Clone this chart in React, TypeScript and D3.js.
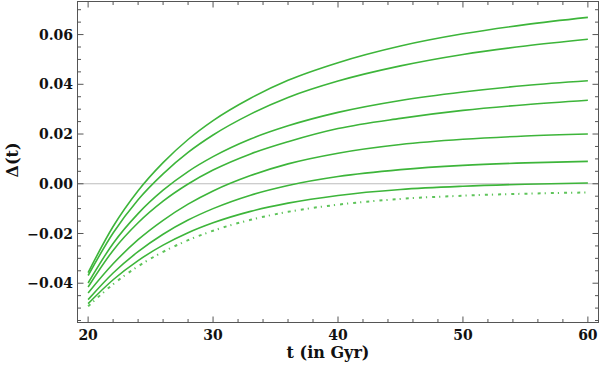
import { scaleLinear, line, curveMonotoneX, range } from "d3";

const width = 600;
const height = 370;

// time samples (Gyr)
const tValues = [20, 22, 24, 26, 28, 30, 33, 36, 40, 45, 50, 55, 60];

// Δ(t), top curve first
const curve1 = [-0.0357, -0.0172, -0.0028, 0.0085, 0.0178, 0.0254, 0.0344, 0.0416, 0.0487, 0.0554, 0.0603, 0.064, 0.0669];
const curve2 = [-0.0369, -0.0198, -0.0064, 0.004, 0.0126, 0.0196, 0.028, 0.0347, 0.0413, 0.0474, 0.052, 0.0554, 0.0581];
const curve3 = [-0.0399, -0.024, -0.012, -0.0026, 0.0049, 0.0109, 0.018, 0.0233, 0.0287, 0.0335, 0.0369, 0.0395, 0.0414];
const curve4 = [-0.0415, -0.0268, -0.0157, -0.007, -0.0001, 0.0055, 0.012, 0.0169, 0.0222, 0.0263, 0.0295, 0.0318, 0.0336];
const curve5 = [-0.0439, -0.0322, -0.0225, -0.0147, -0.0082, -0.0029, 0.0033, 0.008, 0.0123, 0.0158, 0.0179, 0.0192, 0.02];
const curve6 = [-0.0466, -0.0359, -0.0273, -0.0203, -0.0146, -0.01, -0.0046, -0.0007, 0.0029, 0.0057, 0.0074, 0.0084, 0.009];
const curve7 = [-0.0482, -0.0386, -0.0309, -0.0247, -0.0197, -0.0157, -0.0111, -0.0078, -0.0047, -0.0023, -0.001, -0.0002, 0.0003];
const curveDashed = [-0.0493, -0.0404, -0.0332, -0.0274, -0.0227, -0.0189, -0.0145, -0.0113, -0.0084, -0.0061, -0.0048, -0.004, -0.0035];

const solidCurves = [curve1, curve2, curve3, curve4, curve5, curve6, curve7];

const xTicks = [20, 30, 40, 50, 60];
const yTicks = [-0.04, -0.02, 0.0, 0.02, 0.04, 0.06];

const left = 77.5;
const right = 598.5;
const top = 1.5;
const bottom = 322.5;

const font = '"DejaVu Serif", "Liberation Serif", serif';

function App() {
  const x = scaleLinear().domain([19.15, 60.85]).range([left, right]);
  const y = scaleLinear().domain([-0.0558, 0.0733]).range([bottom, top]);

  const path = (vals: number[]) =>
    line<number>()
      .x((_, i) => x(tValues[i]))
      .y((d) => y(d))
      .curve(curveMonotoneX)(vals) || "";

  const xMinor = range(20, 61, 2).filter((t) => t % 10 !== 0);
  const yMinor = range(-11, 15)
    .map((k) => k * 0.005)
    .filter((v) => Math.abs(Math.round(v * 1000) % 20) !== 0);

  const fmt = (v: number) => {
    const s = Math.abs(v).toFixed(2);
    return v < -1e-9 ? "\u2212" + s : s;
  };

  const frame = "#555";

  return (
    <div style={{ position: "absolute", left: 0, top: 0 }}>
      <svg width={width} height={height} fontFamily={font} style={{ display: "block" }}>
        <rect x={0} y={0} width={width} height={height} fill="white" />

        {/* zero line */}
        <line x1={left} x2={right} y1={y(0)} y2={y(0)} stroke="#bdbdbd" strokeWidth={1} />

        {/* curves */}
        <path
          d={path(curveDashed)}
          fill="none"
          stroke="#5ec45a"
          strokeWidth={2}
          strokeDasharray="3,4,1.2,5"
        />
        {solidCurves.map((c, i) => (
          <path key={i} d={path(c)} fill="none" stroke="#3db53a" strokeWidth={1.6} />
        ))}

        {/* frame */}
        <rect
          x={left}
          y={top}
          width={right - left}
          height={bottom - top}
          fill="none"
          stroke={frame}
          strokeWidth={1}
        />

        {/* x ticks bottom + top */}
        {xTicks.map((t) => (
          <g key={"xt" + t}>
            <line x1={x(t)} x2={x(t)} y1={bottom} y2={bottom - 6} stroke={frame} />
            <line x1={x(t)} x2={x(t)} y1={top} y2={top + 6} stroke={frame} />
            <text x={x(t)} y={339.5} textAnchor="middle" fontSize={14} fontWeight={700} fill="#111">
              {t}
            </text>
          </g>
        ))}
        {xMinor.map((t) => (
          <g key={"xm" + t}>
            <line x1={x(t)} x2={x(t)} y1={bottom} y2={bottom - 3.5} stroke={frame} />
            <line x1={x(t)} x2={x(t)} y1={top} y2={top + 3.5} stroke={frame} />
          </g>
        ))}

        {/* y ticks left + right */}
        {yTicks.map((v) => (
          <g key={"yt" + v}>
            <line x1={left} x2={left + 6} y1={y(v)} y2={y(v)} stroke={frame} />
            <line x1={right} x2={right - 6} y1={y(v)} y2={y(v)} stroke={frame} />
            <text
              x={73}
              y={y(v)}
              dy="0.36em"
              textAnchor="end"
              fontSize={14}
              fontWeight={700}
              fill="#111"
            >
              {fmt(v)}
            </text>
          </g>
        ))}
        {yMinor.map((v) => (
          <g key={"ym" + v}>
            <line x1={left} x2={left + 3.5} y1={y(v)} y2={y(v)} stroke={frame} />
            <line x1={right} x2={right - 3.5} y1={y(v)} y2={y(v)} stroke={frame} />
          </g>
        ))}

        {/* axis titles */}
        <text
          x={328}
          y={358}
          textAnchor="middle"
          fontSize={16}
          fontWeight={700}
          fill="#111"
        >
          t (in Gyr)
        </text>
        <text
          transform={`translate(18, 160) rotate(-90)`}
          textAnchor="middle"
          fontSize={16}
          fontWeight={700}
          fill="#111"
        >
          Δ(t)
        </text>
      </svg>
    </div>
  );
}

export default App;
